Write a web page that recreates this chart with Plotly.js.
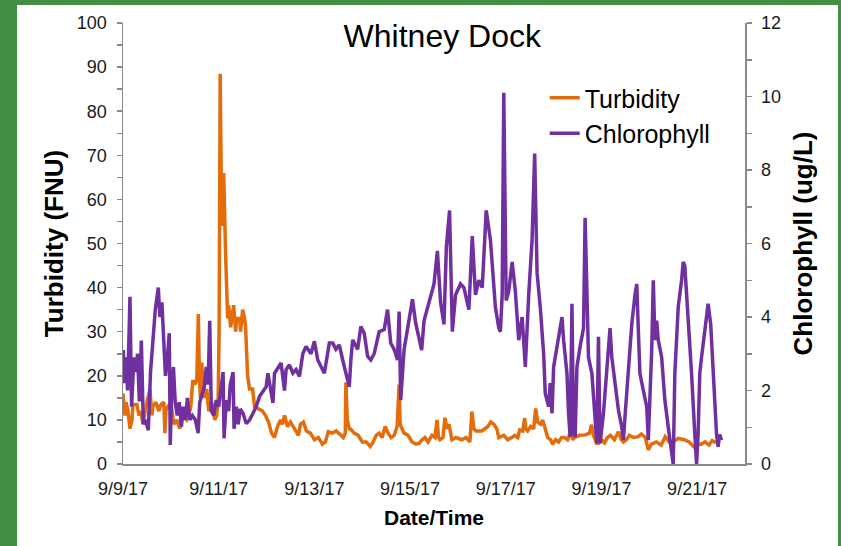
<!DOCTYPE html>
<html>
<head>
<meta charset="utf-8">
<script src="https://cdn.plot.ly/plotly-3.0.1.min.js"></script>
<style>
  html, body { margin:0; padding:0; background:#438E44; width:841px; height:546px; overflow:hidden; }
  #chart { position:absolute; left:17px; top:5px; width:821px; height:541px; background:#fff; }
</style>
</head>
<body>
<div id="chart"></div>
<script>
// ---- data (time in hours after 9/9/17 00:00) ----
const startDate = Date.UTC(2017, 8, 9, 0, 0, 0);

const turbidityHours = [0,1,1.5,2.5,3.5,4.5,5,7,8,9,10,11,12,13.5,14.5,15,16.5,18,19,20.5,21,21.5,22.5,24,25.5,27,28.5,30,32,33,34,35,36,37,37.8,38.3,38.8,39.5,40.5,42,43,44.5,46,47,47.75,48.2,48.75,49.5,50.5,51.5,52,52.5,53,54,55.5,56.5,57,58.5,59,60,61,61.5,62.5,63.5,65,66,68,70,71.5,73,74.5,76,77.5,79,80,81,82.5,84,86,88,89,90.5,92,94,96,98,100,101.5,103,105,107,109,110.5,111.5,111.8,112.5,113.5,114,116,118,120,122,124,125.5,127,128.5,130,131.5,133,134.5,136,137.5,138,138.5,139,141,143,145,147,
  148.5,150,151.5,153,155,156.5,157.5,158.3,159,160.5,161.5,162.5,163.5,165,167,170,172,174,175,176,177,180,181.5,183,184.5,186,187.5,188.5,191,193,195,196.5,198,199,200.5,201.5,202,203,204.5,206,207,208,209.5,210.5,211.5,213,214.5,215.5,217,218.5,220,221.5,223,225,225.5,226.5,229,232,234,235,236,237.5,238.5,240,241.5,243,244.5,246.5,248.5,250,251,252.5,254,256,258.5,260,262,263.5,265,267.5,270,272,274,276,278.5,281.5,284,287,288.5,290,292,294,295.5,297.5];
const turbidity = [16,11,14,12,8,10,13.5,13.5,11,12,9,12,14,17,11,13,14,12,13.5,14,7,12,13,14,9,10,8,11,10,11,13,19,18,19,34,20,15,23,15,17,12,14,10,11,15,30,88.5,54,66,47,41,33,36,31,36,30,33,33,30,35,33,31,20,17,17,13,12.5,12,11,9.5,7,6,8.5,10,9,11,8.5,9.5,8,6.5,9,9.5,7.5,7,5.5,6,4.5,5,7.3,7,7.5,6.5,6,7,18.5,10,8,8,7,6.5,5,5,4,5,6.5,7,6,8.5,7,6,6.5,8.5,12,18,9,7,6.5,5,4.5,
  4.7,5.5,6,5,6.5,6,10,6,5.5,6,10.5,8,9,5.5,6,5.5,6,5,11.9,8,7.5,7.5,8,8.5,9.5,9,8,6,6.5,5.5,6,6.5,6,7.7,7.5,10.4,8,7.5,8.5,8,12.6,9.5,9,10,8.5,6,5.5,4.5,5.5,5,6,6,5.5,7.7,5.5,6,6.5,6.6,7,8.9,6.5,4.7,4.7,5.5,4.8,6,6.5,5.5,7.3,5.5,5,5.5,6.5,6,6.2,6.8,6,3.2,4.5,5,4.3,6.2,5,5,5.8,5.5,5,3.6,4.5,4.5,5,4.3,5.3,4.8];

const chlorophyllHours = [0.2,0.5,1.5,2.3,3.5,4.3,5.5,6.5,7.3,8.2,9.2,10.2,11.3,12.7,13.8,15.2,16.2,17.7,18.5,19.5,20.5,21.3,22.3,23.2,23.7,24.5,25.3,26.2,27.2,28.2,29.3,30.2,31.3,32.3,33.5,34.8,36.3,37.7,38.5,39.8,40.8,41.8,42.7,43.5,44.3,45.5,46.8,48,49.2,50.2,50.7,51.8,53,53.8,55.2,55.7,56.8,57.8,58.8,60.2,61.8,63.5,65.2,66.8,68.5,70.2,71.8,72.7,74.3,75.2,76,77.7,79.3,81,81.8,83.5,85.2,86.8,88.5,90.2,91.8,94.3,96,97.7,99.3,101,103.5,105.2,106.8,108.5,110.2,111.8,113.5,114.3,115.2,117.7,119.3,121,122.7,124.3,126,128.5,131,132.7,134.3,136,137.7,138.5,139.3,141,143.5,145.2,146.8,
  148.5,149.8,151,152.7,154.3,156,157.7,159.3,161,162.2,163.8,165.2,166.8,169.3,171,173.5,175.2,176.8,178.5,180.2,182.2,184.3,186.8,188.5,189.3,190.2,191,192.2,193.5,195.2,196.8,198.5,200.2,201.8,203.5,205.2,206.5,207.7,209.3,211,211.8,213.5,214.3,215.2,216,216.8,218.5,220.2,221,222.7,223.5,224.3,225.2,226,226.8,227.7,229.3,231,231.8,232.7,233.5,235.2,236.8,237.7,238.5,239.3,241,242.7,244.3,245.2,246.8,248.5,250.2,251,251.8,253.5,255.2,256.8,257.7,258.5,259.3,261,262.7,263.5,264.3,265.2,266,266.8,267.7,268.5,270.2,271.8,273.5,275.2,276,276.8,278.5,280.2,281,281.8,282.7,283.5,285.2,286.8,287.7,288.5,289.3,290.2,291.8,293.5,294.8,296,297.7,298.5,299.3,300.2];
const chlorophyll = [3.1,2.2,2.9,2.0,4.55,1.56,2.9,2.5,3.0,1.7,3.36,1.08,1.2,0.92,2.5,3.6,4.2,4.8,4.0,4.4,3.24,2.4,2.9,3.56,0.52,2.16,2.64,1.68,1.32,1.68,1.02,1.56,1.2,1.8,1.2,1.32,1.2,0.84,1.68,1.92,2.1,2.64,2.16,3.9,1.44,1.32,1.74,1.56,2.04,2.5,0.7,1.74,1.44,2.16,2.5,0.96,1.56,1.08,1.5,1.38,1.1,1.2,1.38,1.56,1.84,1.98,2.1,2.47,2.0,1.66,2.47,2.6,2.75,2.0,2.57,2.7,2.47,2.57,2.38,3.0,3.2,3.0,3.34,2.83,2.64,2.47,3.29,3.29,3.12,3.24,2.83,2.47,2.1,2.83,3.38,3.12,3.74,3.56,2.93,2.83,3.0,3.6,3.66,4.2,3.29,3.12,2.83,4.15,1.74,3.12,4.0,4.48,3.84,
  3.46,3.1,3.9,4.27,4.6,4.9,5.8,4.4,3.8,5.9,6.9,3.6,4.6,4.9,4.8,4.2,6.2,4.6,5.0,4.8,6.9,6.1,4.27,3.7,3.6,4.6,10.1,4.45,4.7,5.5,4.7,3.37,4.0,2.64,4.6,6.1,8.45,5.2,4.27,3.0,1.92,1.56,2.2,1.38,2.64,2.9,3.55,4.0,3.37,2.46,1.38,0.74,4.36,0.83,0.74,2.64,3.2,3.7,6.7,4.0,2.9,2.46,1.28,0.56,3.46,0.56,1.38,2.46,3.7,2.9,2.2,1.47,1.0,0.65,1.28,2.46,3.8,4.6,4.9,3.64,2.46,2.0,1.56,0.65,1.8,3.1,5.0,3.37,3.9,3.37,2.9,1.74,1.0,0.29,0.0,2.46,4.27,5.0,5.5,5.4,4.7,4.0,2.46,0.83,0.0,0.83,2.46,2.9,3.7,4.36,3.8,2.46,0.83,0.47,0.8,0.65];

const seriesNames = ['Turbidity', 'Chlorophyll'];
const seriesColors = ['#E46C0A', '#7030A0'];

function toDate(h) {
  return new Date(startDate + h * 3600000).toISOString().slice(0, 19).replace('T', ' ');
}

const axisGray = '#8a8a8a';
const traces = [
  { x: turbidityHours.map(toDate), y: turbidity, name: seriesNames[0], type: 'scatter', mode: 'lines',
    line: { color: seriesColors[0], width: 3.5 }, yaxis: 'y' },
  { x: chlorophyllHours.map(toDate), y: chlorophyll, name: seriesNames[1], type: 'scatter', mode: 'lines',
    line: { color: seriesColors[1], width: 3.5 }, yaxis: 'y2' }
];

const layout = {
  width: 821, height: 541,
  margin: { l: 106, r: 93, t: 18, b: 82 },
  paper_bgcolor: '#ffffff', plot_bgcolor: '#ffffff',
  font: { family: 'Liberation Sans, Arial, sans-serif', color: '#1a1a1a' },
  showlegend: true,
  title: { text: 'Whitney Dock', font: { size: 32, color: '#000' },
           xref: 'container', yref: 'container', x: 0.518, y: 0.9436, xanchor: 'center', yanchor: 'middle' },
  xaxis: {
    type: 'date', range: ['2017-09-09 00:00', '2017-09-22 00:00'],
    tick0: '2017-09-09', dtick: 2 * 86400000, tickformat: '%-m/%-d/%y',
    showline: true, linecolor: axisGray, linewidth: 1.5, showgrid: false, zeroline: false,
    ticks: '', tickfont: { size: 18 }, ticklabelstandoff: 8,
    title: { text: 'Date/Time', font: { size: 21, weight: 'bold', color: '#000' }, standoff: 12 }
  },
  yaxis: {
    range: [0, 100], dtick: 10, tick0: 0,
    showline: true, linecolor: axisGray, linewidth: 1.5, showgrid: false, zeroline: false,
    ticks: 'outside', ticklen: 5, tickwidth: 1.5, tickcolor: axisGray,
    minor: { dtick: 5, tick0: 0, ticks: 'outside', ticklen: 5, tickwidth: 1.5, tickcolor: axisGray, showgrid: false },
    tickfont: { size: 18 }, ticklabelstandoff: 6,
    title: { text: 'Turbidity (FNU)', font: { size: 26, weight: 'bold', color: '#000' }, standoff: 6 }
  },
  yaxis2: {
    overlaying: 'y', side: 'right', range: [0, 12], dtick: 2, tick0: 0,
    showline: true, linecolor: axisGray, linewidth: 1.5, showgrid: false, zeroline: false,
    ticks: 'outside', ticklen: 5, tickwidth: 1.5, tickcolor: axisGray,
    minor: { dtick: 1, tick0: 0, ticks: 'outside', ticklen: 5, tickwidth: 1.5, tickcolor: axisGray, showgrid: false },
    tickfont: { size: 18 }, ticklabelstandoff: 6,
    title: { text: 'Chlorophyll (ug/L)', font: { size: 26, weight: 'bold', color: '#000' }, standoff: 13 }
  },
  legend: {
    x: 0.678, y: 0.882, xanchor: 'left', yanchor: 'top',
    bgcolor: 'rgba(0,0,0,0)', borderwidth: 0,
    font: { size: 25, color: '#000' }
  }
};

Plotly.newPlot('chart', traces, layout, { staticPlot: true, displayModeBar: false });
</script>
</body>
</html>
